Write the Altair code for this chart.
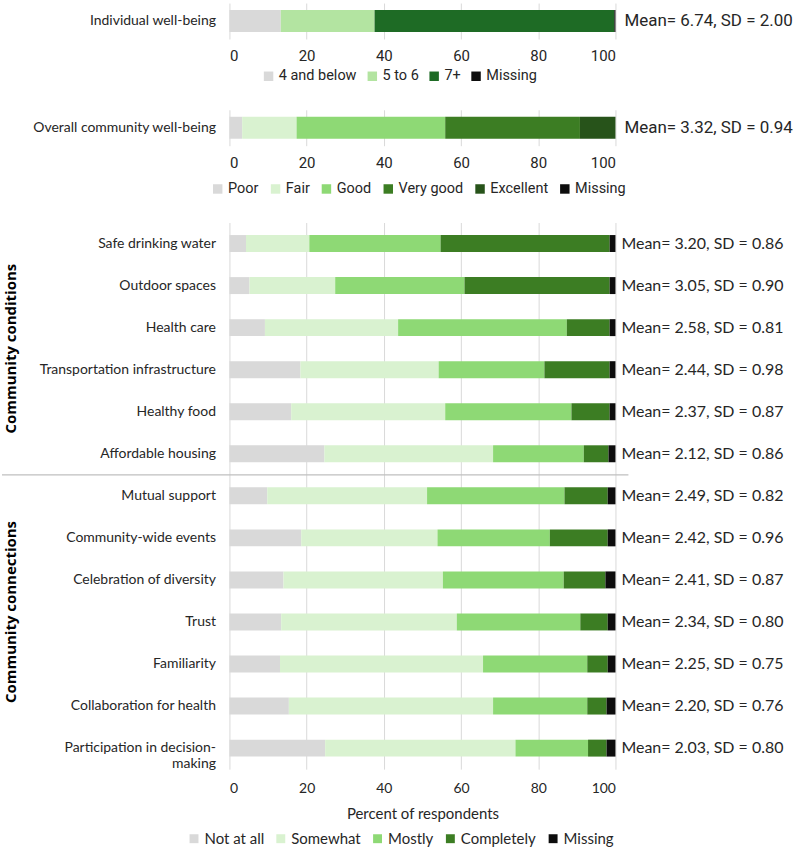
import altair as alt
import pandas as pd

# ---------------- data ----------------
top_item = "Individual well-being"
top_cats = ["4 and below", "5 to 6", "7+", "Missing"]
top_vals = [13.3, 24.3, 62.1, 0.3]
top_colors = ["#d9d9d9", "#b3e4a1", "#1e6b25", "#0d0d0d"]
top_mean = "Mean= 6.74, SD = 2.00"

mid_item = "Overall community well-being"
mid_cats = ["Poor", "Fair", "Good", "Very good", "Excellent", "Missing"]
mid_vals = [3.3, 14.1, 38.5, 34.9, 9.2, 0.0]
mid_colors = ["#d9d9d9", "#d9f2d0", "#8ed975", "#3c7d23", "#27531a", "#0d0d0d"]
mid_mean = "Mean= 3.32, SD = 0.94"

items = [
    "Safe drinking water", "Outdoor spaces", "Health care",
    "Transportation infrastructure", "Healthy food", "Affordable housing",
    "Mutual support", "Community-wide events", "Celebration of diversity",
    "Trust", "Familiarity", "Collaboration for health",
    "Participation in decision-making",
]
resp = ["Not at all", "Somewhat", "Mostly", "Completely", "Missing"]
not_at_all = [4.3, 5.2, 9.2, 18.4, 16.0, 24.6, 9.8, 18.6, 14.0, 13.4, 13.1, 15.4, 24.8]
somewhat = [16.4, 22.2, 34.5, 35.8, 39.9, 43.7, 41.4, 35.3, 41.3, 45.5, 52.6, 52.9, 49.3]
mostly = [34.0, 33.5, 43.7, 27.4, 32.7, 23.5, 35.6, 29.1, 31.3, 32.0, 27.0, 24.4, 18.8]
completely = [43.8, 37.6, 11.1, 16.9, 9.9, 6.4, 11.2, 15.0, 10.8, 7.1, 5.3, 5.0, 4.8]
missing = [1.5, 1.5, 1.5, 1.5, 1.5, 1.8, 2.0, 2.0, 2.6, 2.0, 2.0, 2.3, 2.3]
means = [
    "Mean= 3.20, SD = 0.86", "Mean= 3.05, SD = 0.90", "Mean= 2.58, SD = 0.81",
    "Mean= 2.44, SD = 0.98", "Mean= 2.37, SD = 0.87", "Mean= 2.12, SD = 0.86",
    "Mean= 2.49, SD = 0.82", "Mean= 2.42, SD = 0.96", "Mean= 2.41, SD = 0.87",
    "Mean= 2.34, SD = 0.80", "Mean= 2.25, SD = 0.75", "Mean= 2.20, SD = 0.76",
    "Mean= 2.03, SD = 0.80",
]
main_colors = ["#d9d9d9", "#d9f2d0", "#8ed975", "#3c7d23", "#0d0d0d"]
groups = ["Community conditions", "Community connections"]
group_anchor = ["Transportation infrastructure", "Trust"]
separator_item = "Mutual support"

# ---------------- style ----------------
FONT = "Lato, Inter, sans-serif"
NARROW = "Roboto, sans-serif"
BOLD = "Open Sans, sans-serif"
TXT = "#262626"
GRID = "#d9d9d9"
W = 387


def x_enc(title=None, font=FONT, size=14, pad=10):
    return alt.X(
        "value:Q", stack="zero",
        scale=alt.Scale(domain=[0, 100], nice=False),
        axis=alt.Axis(values=[0, 20, 40, 60, 80, 100], title=title, grid=True,
                      gridColor=GRID, domain=False, ticks=False,
                      labelFont=font, labelFontSize=size, labelColor=TXT,
                      labelPadding=pad, titleFont=FONT, titleFontSize=15,
                      titleFontWeight="normal", titleColor=TXT, titlePadding=11),
    )


def y_enc(domain, band=0.5):
    return alt.Y(
        "item:N", sort=domain, bandPosition=band,
        scale=alt.Scale(domain=domain, paddingInner=0, paddingOuter=0),
        axis=alt.Axis(title=None, ticks=False, domain=False, labelFont=FONT,
                      labelFontSize=14, labelColor=TXT, labelPadding=14,
                      minExtent=228, maxExtent=228, labelLimit=220,
                      labelExpr="datum.value == 'Participation in decision-making' ? ['Participation in decision-', 'making'] : datum.value"),
    )


def small_chart(item, cats, vals, colors, mean_label, lx, ly, colpad):
    df = pd.DataFrame({"item": [item] * len(cats), "resp": cats,
                       "value": vals, "ord": list(range(len(cats)))})
    bars = alt.Chart(df).mark_bar(height=22).encode(
        x=x_enc(None, NARROW, 15, 10),
        y=y_enc([item]),
        color=alt.Color("resp:N", sort=cats,
                        scale=alt.Scale(domain=cats, range=colors),
                        legend=alt.Legend(orient="none", legendX=lx, legendY=ly,
                                          direction="horizontal", title=None,
                                          symbolType="square", symbolSize=90,
                                          labelFont=NARROW, labelFontSize=14.5,
                                          labelColor=TXT, columnPadding=colpad,
                                          labelOffset=3, symbolStrokeWidth=0)),
        order=alt.Order("ord:Q"),
    )
    txt = alt.Chart(pd.DataFrame({"item": [item], "label": [mean_label]})).mark_text(
        align="left", baseline="middle", font=NARROW, fontSize=17, color=TXT
    ).encode(x=alt.value(396), y=y_enc([item]), text="label:N")
    return alt.layer(bars, txt).properties(width=W, height=36)


c1 = small_chart(top_item, top_cats, top_vals, top_colors, top_mean, 32, 66, 8)
c2 = small_chart(mid_item, mid_cats, mid_vals, mid_colors, mid_mean, -19, 72, 9)

rows = []
for i, it in enumerate(items):
    for j, (r, arr) in enumerate(zip(resp, [not_at_all, somewhat, mostly, completely, missing])):
        rows.append({"item": it, "resp": r, "value": arr[i], "ord": j})
df3 = pd.DataFrame(rows)

bars3 = alt.Chart(df3).mark_bar(height=17).encode(
    x=x_enc("Percent of respondents", FONT, 14, 12),
    y=y_enc(items),
    color=alt.Color("resp:N", sort=resp, scale=alt.Scale(domain=resp, range=main_colors),
                    legend=alt.Legend(orient="none", legendX=-43, legendY=610,
                                      direction="horizontal", title=None,
                                      symbolType="square", symbolSize=80,
                                      labelFont=FONT, labelFontSize=15,
                                      labelColor=TXT, columnPadding=9,
                                      labelOffset=3, symbolStrokeWidth=0)),
    order=alt.Order("ord:Q"),
)
means3 = alt.Chart(pd.DataFrame({"item": items, "label": means})).mark_text(
    align="left", baseline="middle", font=FONT, fontSize=16, color=TXT
).encode(x=alt.value(393), y=y_enc(items), text="label:N")

sep = alt.Chart(pd.DataFrame({"item": [separator_item]})).mark_rule(
    color="#bfbfbf", strokeWidth=1.2
).encode(y=y_enc(items, 0), x=alt.value(-228), x2=alt.value(400))

g1 = alt.Chart(pd.DataFrame({"item": [group_anchor[0]], "label": [groups[0]]})).mark_text(
    angle=270, align="center", baseline="middle", font=BOLD, fontSize=15,
    fontWeight="bold", color="#000000"
).encode(x=alt.value(-219), y=y_enc(items, 0), text="label:N")
g2 = alt.Chart(pd.DataFrame({"item": [group_anchor[1]], "label": [groups[1]]})).mark_text(
    angle=270, align="center", baseline="middle", font=BOLD, fontSize=15,
    fontWeight="bold", color="#000000", dx=10
).encode(x=alt.value(-219), y=y_enc(items, 0.5), text="label:N")

c3 = alt.layer(bars3, means3, sep, g1, g2).properties(width=W, height=548)

chart = alt.vconcat(c1, c2, c3, spacing=27).resolve_scale(
    color="independent", y="independent", x="independent"
).resolve_legend(color="independent").properties(
    padding={"left": 1, "top": 2, "right": 1, "bottom": 1}
).configure_view(stroke=None)

chart.save("out.html", embed_options={"renderer": "svg", "actions": False})
